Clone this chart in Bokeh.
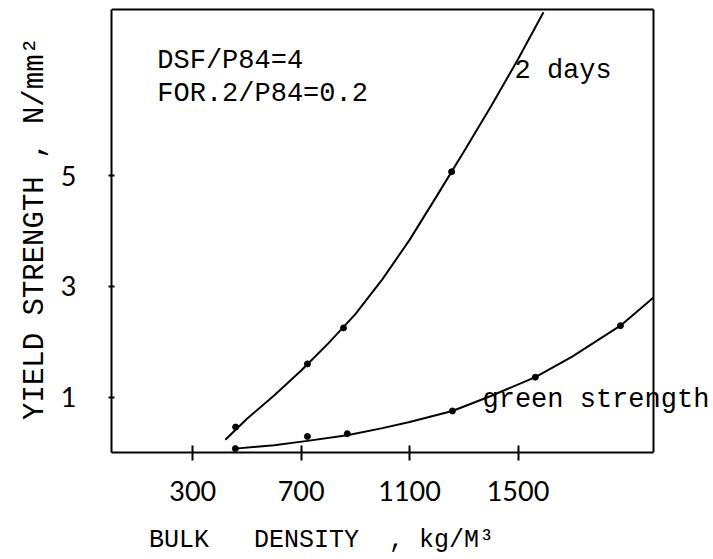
import math
from bokeh.plotting import figure
from bokeh.models import Label, FixedTicker, Range1d
from bokeh.embed import file_html
from bokeh.resources import INLINE

# ---- data ----
x_ticks = [300, 700, 1100, 1500]
y_ticks = [1, 3, 5]
x_max, y_max = 2000, 8

days2_pts_x = [458, 723, 856, 1255]
days2_pts_y = [0.46, 1.60, 2.25, 5.07]
days2_curve_x = [420, 500, 600, 700, 800, 900, 1000, 1100, 1200, 1300, 1400, 1500, 1594]
days2_curve_y = [0.23, 0.61, 1.03, 1.48, 1.97, 2.50, 3.13, 3.84, 4.63, 5.43, 6.25, 7.10, 7.95]

green_pts_x = [457, 723, 870, 1258, 1564, 1878]
green_pts_y = [0.07, 0.29, 0.34, 0.75, 1.36, 2.29]
green_curve_x = [457, 600, 723, 870, 1000, 1100, 1258, 1400, 1564, 1700, 1878, 2000]
green_curve_y = [0.07, 0.13, 0.21, 0.31, 0.44, 0.55, 0.75, 1.02, 1.36, 1.73, 2.29, 2.80]

MONO = "Liberation Mono"
SANS = "Lato"
NB = "\u00a0"

p = figure(output_backend="svg", toolbar_location=None,
           x_range=Range1d(0, 2214), y_range=Range1d(0, 8.09),
           min_border_left=111, min_border_right=0, min_border_top=4, min_border_bottom=103)
p.frame_width = 600
p.frame_height = 448
p.xgrid.visible = False
p.ygrid.visible = False
p.outline_line_color = None
p.background_fill_color = "white"
p.border_fill_color = "white"

p.xaxis.ticker = FixedTicker(ticks=x_ticks)
p.yaxis.ticker = FixedTicker(ticks=y_ticks)
p.xaxis.bounds = (0, x_max)
p.yaxis.bounds = (0, y_max)
for ax in (p.xaxis[0], p.yaxis[0]):
    ax.axis_line_width = 2
    ax.axis_line_color = "black"
    ax.major_tick_line_width = 2
    ax.major_tick_line_color = "black"
    ax.minor_tick_line_color = None
    ax.major_label_text_font = SANS
    ax.major_label_text_font_size = "27px"
    ax.major_label_text_color = "black"
    ax.axis_label_text_font = MONO
    ax.axis_label_text_font_style = "normal"
    ax.axis_label_text_color = "black"
p.xaxis.major_tick_in = 7
p.xaxis.major_tick_out = 8
p.xaxis.major_label_standoff = 20
p.yaxis.major_tick_in = 3
p.yaxis.major_tick_out = 3
p.yaxis.major_label_standoff = 32

p.yaxis.axis_label = "YIELD STRENGTH , N/mm\u00b2"
p.yaxis.axis_label_text_font_size = "29px"
p.yaxis.axis_label_standoff = 6

# the title sits left of centre in the reference; trailing no-break spaces shift it
x_title = "BULK" + NB * 3 + "DENSITY" + NB * 2 + "," + NB + "kg/M\u00b3"
p.xaxis.axis_label = x_title + NB * 12
p.xaxis.axis_label_text_font_size = "25px"
p.xaxis.axis_label_standoff = 22

# frame top and right edges
p.line([0, x_max], [y_max, y_max], line_color="black", line_width=2)
p.line([x_max, x_max], [0, y_max], line_color="black", line_width=2)

p.line(days2_curve_x, days2_curve_y, line_color="black", line_width=2)
p.line(green_curve_x, green_curve_y, line_color="black", line_width=2)
p.scatter(days2_pts_x, days2_pts_y, size=6, color="black")
p.scatter(green_pts_x, green_pts_y, size=6, color="black")

def lab(x, y, t, size="27px", font=MONO, **kw):
    p.add_layout(Label(x=x, y=y, text=t, text_font=font, text_font_size=size,
                       text_color="black", **kw))

lab(169, 6.80, "DSF/P84=4")
lab(169, 6.21, "FOR.2/P84=0.2")
lab(1487, 6.61, "2 days")
lab(1369, 0.68, "green strength")

open("out.html", "w").write(file_html(p, INLINE))
